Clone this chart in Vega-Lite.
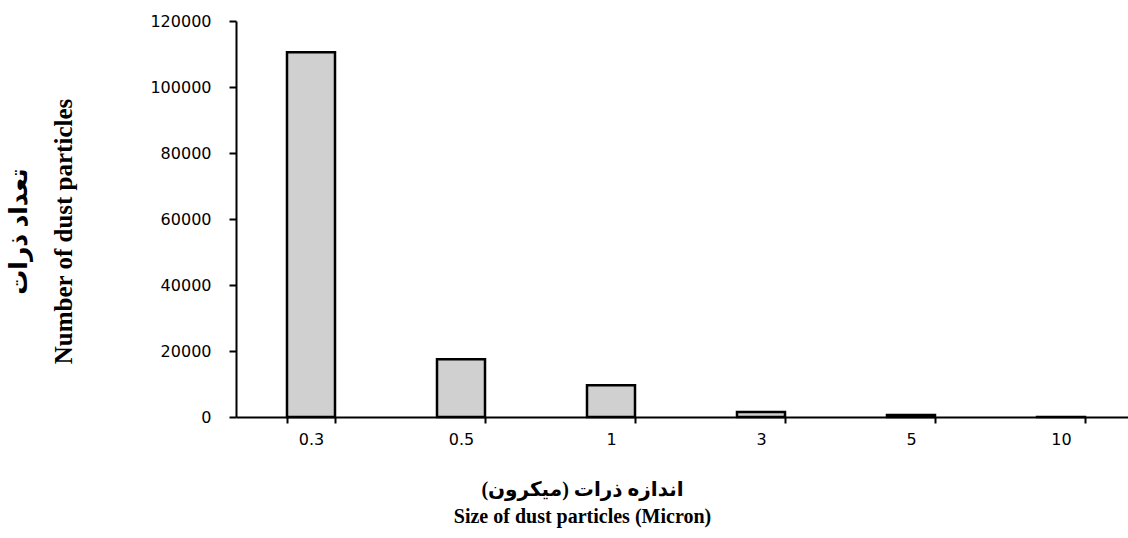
{
  "$schema": "https://vega.github.io/schema/vega-lite/v6.json",
  "autosize": {"type": "none"},
  "padding": {"left": 236, "top": 21, "right": 0, "bottom": 121},
  "width": 900,
  "height": 396,
  "background": "white",
  "data": {"values": [
    {"size": "0.3", "count": 110500},
    {"size": "0.5", "count": 17500},
    {"size": "1", "count": 9600},
    {"size": "3", "count": 1500},
    {"size": "5", "count": 600},
    {"size": "10", "count": 20}
  ]},
  "mark": {"type": "bar", "fill": "#d0d0d0", "stroke": "black", "strokeWidth": 2.5},
  "encoding": {
    "x": {
      "field": "size", "type": "ordinal", "sort": null,
      "scale": {"paddingInner": 0.68, "paddingOuter": 0.34},
      "axis": {
        "title": ["اندازه ذرات (میکرون)", "Size of dust particles (Micron)"],
        "titleFont": "Liberation Serif, DejaVu Sans",
        "titleFontSize": 20, "titleFontWeight": "bold", "titleColor": "black",
        "titleLineHeight": 27, "titlePadding": 32,
        "titleX": 346, "titleAlign": "center",
        "labelAngle": 0, "labelFont": "DejaVu Sans", "labelFontSize": 16, "labelColor": "black",
        "labelPadding": 8,
        "tickBand": "extent", "tickColor": "black", "tickWidth": 2, "tickSize": 6,
        "domainColor": "black", "domainWidth": 2
      }
    },
    "y": {
      "field": "count", "type": "quantitative",
      "scale": {"domain": [0, 120000], "nice": false},
      "axis": {
        "title": ["تعداد ذرات", "Number of dust particles"],
        "titleFont": "Liberation Serif, DejaVu Sans",
        "titleFontSize": 25, "titleFontWeight": "bold", "titleColor": "black",
        "titleLineHeight": 45, "titlePadding": 73,
        "titleY": 210, "titleAlign": "center",
        "values": [0, 20000, 40000, 60000, 80000, 100000, 120000],
        "format": "d",
        "labelFont": "DejaVu Sans", "labelFontSize": 16, "labelColor": "black",
        "labelPadding": 18,
        "grid": false,
        "tickColor": "black", "tickWidth": 2, "tickSize": 7,
        "domainColor": "black", "domainWidth": 2
      }
    }
  },
  "config": {"view": {"stroke": null}}
}
